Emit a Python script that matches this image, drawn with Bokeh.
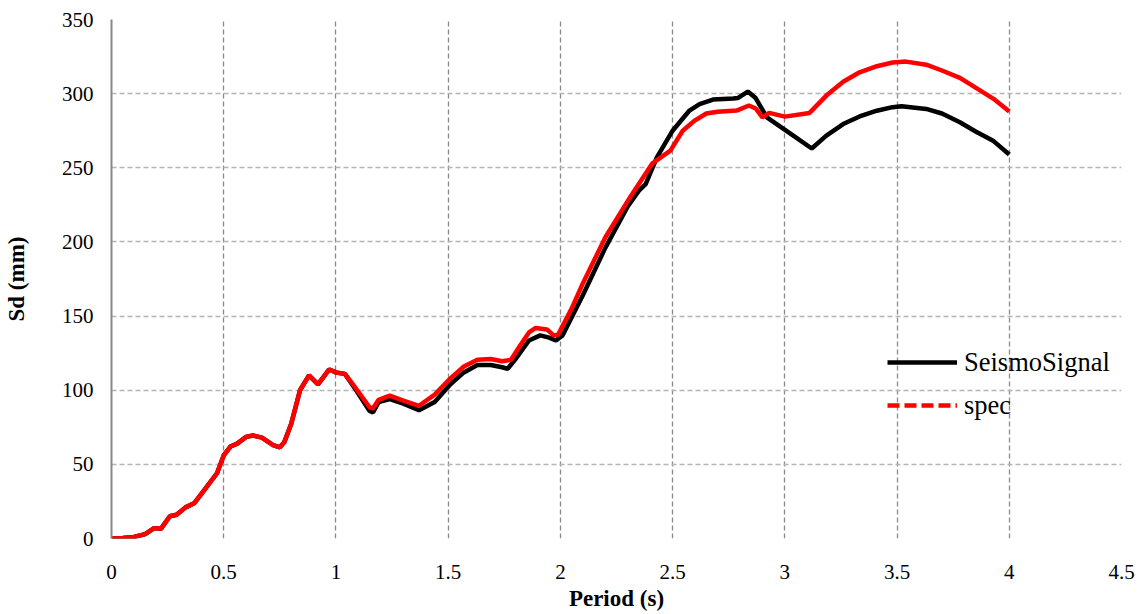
from bokeh.plotting import figure
from bokeh.models import FixedTicker, Legend, LegendItem, Range1d
from bokeh.embed import file_html
from bokeh.resources import INLINE

# SeismoSignal response spectrum (black)
period_seismo = [0, 0.05, 0.1, 0.15, 0.19, 0.22, 0.26, 0.29, 0.33, 0.37, 0.42, 0.47, 0.50, 0.53,
                 0.56, 0.60, 0.63, 0.67, 0.72, 0.75, 0.77, 0.80, 0.84, 0.88, 0.92, 0.97, 1.0,
                 1.04, 1.09, 1.15, 1.165, 1.19, 1.24, 1.30, 1.37, 1.44, 1.51, 1.57, 1.63, 1.69,
                 1.74, 1.765, 1.80, 1.86, 1.91, 1.95, 1.98, 2.01, 2.1, 2.2, 2.3, 2.35, 2.38,
                 2.43, 2.5, 2.575, 2.62, 2.68, 2.77, 2.79, 2.835, 2.87, 2.92, 3.02, 3.12, 3.185,
                 3.26, 3.333, 3.41, 3.48, 3.52, 3.63, 3.70, 3.78, 3.85, 3.93, 4.0]
sd_seismo = [0, 0.3, 1, 3, 7, 6.5, 15, 16, 21, 24, 34, 44, 56, 62,
             64, 68.5, 69.5, 68, 63, 61.5, 65, 77, 100, 110, 104, 114, 112,
             111, 100, 86, 85, 92, 94, 91, 86.5, 92, 104, 112, 117, 117,
             115.5, 114.5, 121, 133.5, 137, 135.5, 133.5, 137, 164, 196, 224, 234.6, 239,
             257, 275, 288.6, 293, 296, 296.7, 297, 301.4, 297, 284, 273.6, 263, 271.7,
             279.5, 284.6, 288.5, 290.9, 291.5, 289.7, 286.6, 280.7, 274.5, 268, 259]

# spec response spectrum (red)
period_spec = [0, 0.05, 0.1, 0.15, 0.19, 0.22, 0.26, 0.29, 0.33, 0.37, 0.42, 0.47, 0.50, 0.53,
               0.56, 0.60, 0.63, 0.67, 0.72, 0.75, 0.77, 0.80, 0.84, 0.88, 0.92, 0.97, 1.0,
               1.04, 1.09, 1.15, 1.165, 1.19, 1.24, 1.30, 1.37, 1.44, 1.51, 1.57, 1.63, 1.69,
               1.74, 1.78, 1.82, 1.86, 1.89, 1.94, 1.97, 1.99, 2.05, 2.1, 2.2, 2.31, 2.41,
               2.49, 2.545, 2.6, 2.65, 2.7, 2.785, 2.84, 2.87, 2.9, 2.93, 3.0, 3.11, 3.185,
               3.26, 3.333, 3.41, 3.48, 3.54, 3.63, 3.70, 3.78, 3.85, 3.93, 4.0]
sd_spec = [0, 0.3, 1, 3, 7, 6.5, 15, 16, 21, 24, 34, 44, 56, 62,
           64, 68.5, 69.5, 68, 63, 61.5, 65, 77, 100, 110, 104, 114, 112,
           111, 101, 88.5, 87.7, 93.5, 96.4, 93, 89.5, 97, 108, 116, 120.5, 121,
           119.5, 120.5, 130, 139, 142, 141, 137, 137.5, 155, 172, 203, 230, 253,
           261.6, 275, 282, 286.6, 287.8, 288.6, 292, 290, 284, 287, 284.5, 287, 298.7,
           308, 314.4, 318.5, 321, 321.6, 319.5, 315.6, 310.6, 304, 296.5, 288]

x_ticks = [0, 0.5, 1, 1.5, 2, 2.5, 3, 3.5, 4, 4.5]
x_tick_labels = ["0", "0.5", "1", "1.5", "2", "2.5", "3", "3.5", "4", "4.5"]
y_ticks = [0, 50, 100, 150, 200, 250, 300, 350]
y_tick_labels = ["0", "50", "100", "150", "200", "250", "300", "350"]

FONT = "Liberation Serif"

p = figure(frame_width=1010, frame_height=519, output_backend="svg", toolbar_location=None,
           x_range=Range1d(0, 4.5), y_range=Range1d(0, 350),
           min_border_left=104, min_border_right=15, min_border_top=19, min_border_bottom=74)
p.outline_line_color = None
p.background_fill_color = "white"

p.xaxis.ticker = FixedTicker(ticks=x_ticks)
p.yaxis.ticker = FixedTicker(ticks=y_ticks)
p.xaxis.major_label_overrides = {t: l for t, l in zip(x_ticks, x_tick_labels)}
p.yaxis.major_label_overrides = {t: l for t, l in zip(y_ticks, y_tick_labels)}

p.xgrid.grid_line_color = "#8a8a8a"
p.xgrid.grid_line_dash = "5 3"
p.xgrid.grid_line_width = 1.3
p.ygrid.grid_line_color = "#b5b5b5"
p.ygrid.grid_line_dash = "5 3"
p.ygrid.grid_line_width = 1.3

p.axis.major_tick_line_color = None
p.axis.minor_tick_line_color = None
p.axis.major_label_text_font = FONT
p.axis.major_label_text_font_style = "normal"
p.axis.major_label_text_font_size = "21px"
p.axis.major_label_text_color = "black"
p.axis.axis_label_text_font = FONT
p.axis.axis_label_text_font_size = "23px"
p.axis.axis_label_text_font_style = "bold"
p.axis.axis_label_text_color = "black"

p.xaxis.axis_line_color = None
p.yaxis.axis_line_color = "#888888"
p.yaxis.axis_line_width = 2
p.xaxis.axis_label = "Period (s)"
p.yaxis.axis_label = "Sd (mm)"
p.xaxis.major_label_standoff = 20
p.xaxis.axis_label_standoff = 4
p.yaxis.major_label_standoff = 12
p.yaxis.axis_label_standoff = 30

r_seismo = p.line(period_seismo, sd_seismo, line_color="black", line_width=4.5)
r_spec = p.line(period_spec, sd_spec, line_color="#ff0000", line_width=4.5)
# legend-only renderer (a single point draws nothing in the plot)
r_spec_leg = p.line(period_spec[:1], sd_spec[:1], line_color="#ff0000", line_width=4.5,
                    line_dash="12 5")

legend = Legend(items=[LegendItem(label="SeismoSignal", renderers=[r_seismo]),
                       LegendItem(label="spec", renderers=[r_spec_leg])],
                location=(776, 115))
legend.label_text_font = FONT
legend.label_text_font_size = "26.5px"
legend.label_text_color = "black"
legend.glyph_width = 70
legend.glyph_height = 36
legend.label_height = 36
legend.label_standoff = 7
legend.spacing = 7
legend.padding = 0
legend.margin = 0
legend.border_line_color = None
legend.background_fill_alpha = 0
p.add_layout(legend)

open("out.html", "w").write(file_html(p, INLINE))
